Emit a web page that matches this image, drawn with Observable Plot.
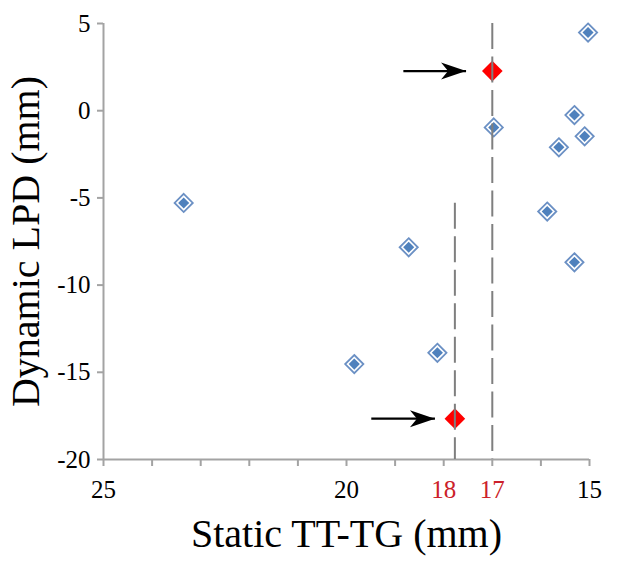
<!DOCTYPE html>
<html>
<head>
<meta charset="utf-8">
<script src="https://cdn.jsdelivr.net/npm/d3@7"></script>
<script src="https://cdn.jsdelivr.net/npm/@observablehq/plot@0.6"></script>
<style>
  html, body { margin: 0; padding: 0; background: #fff; }
  #chart svg { display: block; }
</style>
</head>
<body>
<div id="chart"></div>
<script>
// Blue points: static TT-TG (mm) vs dynamic LPD (mm)
const staticTTTG = [15.03, 15.31, 15.10, 15.63, 16.97, 23.35, 15.87, 18.72, 15.31, 18.13, 19.84];
const dynamicLPD = [4.48, -0.25, -1.47, -2.10, -0.96, -5.29, -5.78, -7.83, -8.69, -13.88, -14.53];

// Highlighted (red) points
const highlightTTTG = [17.0, 17.77];
const highlightLPD = [2.27, -17.66];

// Dashed cutoff lines (x position, top y)
const cutoffX = [17, 17.77];
const cutoffTop = [5, -5.3];

// Arrow annotations (start x, end x at highlight y)
const arrowStartX = [18.83, 19.49];
const arrowEndX = [17.54, 18.18];

// Axis ticks
const xTicks = [25, 24, 23, 22, 21, 20, 19, 18, 17, 16, 15];
const xLabelled = [25, 20, 15];
const xRedLabels = [18, 17];
const yTicks = [-20, -15, -10, -5, 0, 5];
const xTitle = ["Static TT-TG (mm)"];
const yTitle = ["Dynamic LPD (mm)"];

const points = staticTTTG.map((x, i) => ({x, y: dynamicLPD[i]}));
const highlights = highlightTTTG.map((x, i) => ({x, y: highlightLPD[i]}));
const cutoffs = cutoffX.map((x, i) => ({x, top: cutoffTop[i]}));
const arrows = arrowStartX.map((x1, i) => ({x1, x2: arrowEndX[i], y: highlightLPD[i]}));

const axisGrey = "#a3a3a3";

const stealth = {
  draw(context) {
    context.moveTo(0, 0);
    context.lineTo(-25, -8.5);
    context.lineTo(-18, 0);
    context.lineTo(-25, 8.5);
    context.closePath();
  }
};

const chart = Plot.plot({
  width: 618,
  height: 566,
  marginLeft: 103,
  marginRight: 29,
  marginTop: 23,
  marginBottom: 107,
  style: {fontFamily: "'Liberation Serif', 'Times New Roman', serif", fontSize: "25px", background: "#fff", color: "#000"},
  x: {domain: [25, 15]},
  y: {domain: [-20, 5]},
  marks: [
    // axis lines
    Plot.ruleX([25], {y1: -20, y2: 5, stroke: axisGrey, strokeWidth: 2}),
    Plot.ruleY([-20], {stroke: axisGrey, strokeWidth: 2}),
    // y axis
    Plot.axisY({ticks: yTicks, tickSize: 6, tickPadding: 7, stroke: axisGrey, strokeWidth: 2, color: "#000", fill: "#000",
      tickFormat: d => String(d), label: null}),
    // x axis (all ticks, some labels)
    Plot.axisX({ticks: xTicks, tickSize: 7, tickPadding: 14, stroke: axisGrey, strokeWidth: 2, color: "#000", fill: "#000",
      tickFormat: d => xLabelled.includes(d) ? String(d) : "", label: null}),
    // red tick labels
    Plot.axisX({ticks: xRedLabels, tickSize: 0, tickPadding: 21, color: "#cc1f2b", fill: "#cc1f2b",
      tickFormat: d => String(d), label: null}),
    // blue diamonds
    Plot.dot(points, {x: "x", y: "y", symbol: "diamond2", r: 8.2, fill: "#fff", stroke: "#6b90c4", strokeWidth: 1.8}),
    Plot.dot(points, {x: "x", y: "y", symbol: "diamond2", r: 5, fill: "#4f81bd", stroke: "none"}),
    // red diamonds
    Plot.dot(highlights, {x: "x", y: "y", symbol: "diamond2", r: 9.3, fill: "#ff0000", stroke: "none"}),
    // dashed cutoff lines
    Plot.ruleX(cutoffs, {x: "x", y1: "top", y2: () => -20, stroke: "#7f7f7f", strokeWidth: 2, strokeDasharray: "26,7.5"}),
    // arrows
    Plot.link(arrows, {x1: "x1", x2: "x2", y1: "y", y2: "y", stroke: "#000", strokeWidth: 2.2}),
    Plot.dot(arrows, {x: "x2", y: "y", symbol: stealth, r: 5, fill: "#000", stroke: "none"}),
    // titles
    Plot.text(xTitle, {text: d => d, frameAnchor: "bottom", lineAnchor: "bottom", dy: 87, fontSize: 40, textAnchor: "middle", fill: "#000"}),
    Plot.text(yTitle, {text: d => d, frameAnchor: "left", rotate: -90, lineAnchor: "bottom", dx: -65, fontSize: 40, textAnchor: "middle", fill: "#000"})
  ]
});

document.getElementById("chart").appendChild(chart);
</script>
</body>
</html>
